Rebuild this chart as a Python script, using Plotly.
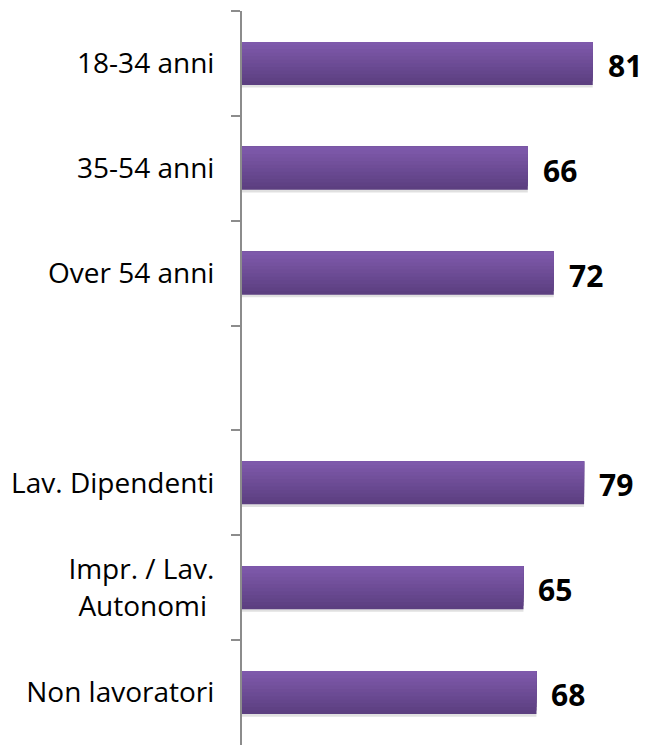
import plotly.graph_objects as go

categories = ["18-34 anni", "35-54 anni", "Over 54 anni", " ",
              "Lav. Dipendenti", "Impr. / Lav.<br>Autonomi ", "Non lavoratori"]
values = [81, 66, 72, None, 79, 65, 68]
value_labels = ["81", "66", "72", "", "79", "65", "68"]

BAR_W = 0.41
TOP = (0x7E, 0x59, 0xAB)
BOTTOM = (0x5C, 0x3F, 0x80)
N_LAYERS = 12

fig = go.Figure()

# soft shadow under the bars
fig.add_trace(go.Bar(
    y=categories, x=values, orientation="h", width=BAR_W, offset=-BAR_W / 2 + 0.025,
    marker=dict(color="rgba(0,0,0,0.12)", line=dict(width=0)), hoverinfo="skip",
))

# vertical gradient built from stacked layers (top aligned)
for k in range(N_LAYERS):
    frac = 1 - k / N_LAYERS
    t = k / (N_LAYERS - 1)
    col = tuple(round(BOTTOM[i] + (TOP[i] - BOTTOM[i]) * t) for i in range(3))
    fig.add_trace(go.Bar(
        y=categories, x=values, orientation="h",
        width=BAR_W * frac, offset=-BAR_W / 2,
        marker=dict(color="rgb(%d,%d,%d)" % col, line=dict(width=0)),
        hoverinfo="skip" if k else None,
    ))

for cat, val, lab in zip(categories, values, value_labels):
    if val is None:
        continue
    fig.add_annotation(x=val, y=cat, text="<b>" + lab + "</b>", showarrow=False,
                       xanchor="left", xshift=13, yshift=-2,
                       font=dict(family="Open Sans", size=30, color="black"))

fig.update_layout(
    width=646, height=745,
    margin=dict(l=242, r=0, t=11, b=0),
    plot_bgcolor="white", paper_bgcolor="white",
    showlegend=False, barmode="overlay",
    font=dict(family="Open Sans", size=28, color="black"),
)
fig.update_xaxes(range=[0, 93.3], visible=False)
fig.update_yaxes(
    type="category", autorange="reversed",
    showline=True, linecolor="#8c8c8c", linewidth=2,
    ticks="outside", tickson="boundaries", ticklen=9, tickcolor="#8c8c8c", tickwidth=2,
    ticklabelstandoff=20, showgrid=False,
)

fig.write_html("out.html", config={"displayModeBar": False},
               post_script="document.body.style.margin='0px';")
